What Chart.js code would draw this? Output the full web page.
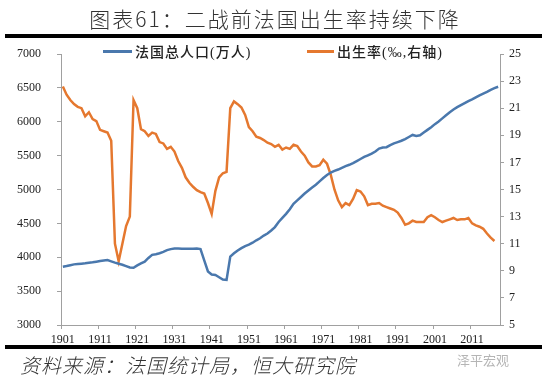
<!DOCTYPE html>
<html><head><meta charset="utf-8">
<script src="https://cdn.jsdelivr.net/npm/chart.js@4/dist/chart.umd.min.js"></script>
<style>
html,body{margin:0;padding:0;background:#fff;}
#wrap{position:relative;width:550px;height:383px;overflow:hidden;background:#fff;}
canvas{position:absolute;left:0;top:0;}
.t{position:absolute;font-family:"Liberation Serif","Noto Sans CJK SC";white-space:nowrap;}
.bar{position:absolute;background:#000;}
.ln{position:absolute;height:3px;}
</style></head><body>
<div id="wrap">
<canvas id="c" width="550" height="383"></canvas>
<div class="t" style="left:0;width:550px;top:3px;text-align:center;font-size:21px;font-weight:300;letter-spacing:2px;color:#333;font-family:'Noto Sans CJK SC'">图表61：二战前法国出生率持续下降</div>
<div class="bar" style="left:5px;top:34px;width:537px;height:4px"></div>
<div class="ln" id="l1" style="left:103px;top:50px;width:29px"></div>
<div class="t" id="t1" style="left:135px;top:41px;font-size:14px;font-weight:500;letter-spacing:1px;color:#222"></div>
<div class="ln" id="l2" style="left:307px;top:50px;width:27px"></div>
<div class="t" id="t2" style="left:337px;top:41px;font-size:14px;font-weight:500;letter-spacing:1px;color:#222"></div>
<div class="bar" style="left:5px;top:345px;width:537px;height:4px"></div>
<div class="t" style="left:20px;top:350px;font-size:20px;font-weight:300;font-style:italic;letter-spacing:1px;color:#333;font-family:'Noto Sans CJK SC'">资料来源：法国统计局，恒大研究院</div>
<div class="t" style="left:457px;top:350px;font-size:13px;color:#b5b5b5;font-family:'Noto Sans CJK SC'">泽平宏观</div>
</div>
<script>
const categories = ['1901','1902','1903','1904','1905','1906','1907','1908','1909','1910',
'1911','1912','1913','1914','1915','1916','1917','1918','1919','1920',
'1921','1922','1923','1924','1925','1926','1927','1928','1929','1930',
'1931','1932','1933','1934','1935','1936','1937','1938','1939','1940',
'1941','1942','1943','1944','1945','1946','1947','1948','1949','1950',
'1951','1952','1953','1954','1955','1956','1957','1958','1959','1960',
'1961','1962','1963','1964','1965','1966','1967','1968','1969','1970',
'1971','1972','1973','1974','1975','1976','1977','1978','1979','1980',
'1981','1982','1983','1984','1985','1986','1987','1988','1989','1990',
'1991','1992','1993','1994','1995','1996','1997','1998','1999','2000',
'2001','2002','2003','2004','2005','2006','2007','2008','2009','2010',
'2011','2012','2013','2014','2015','2016','2017','2018'];
const tickLabels = ['1901','1911','1921','1931','1941','1951','1961','1971','1981','1991','2001','2011'];
const populationLabel = '法国总人口(万人)';
const birthRateLabel = '出生率(‰,右轴)';
const population = [3860,3870,3882,3895,3900,3905,3910,3918,3925,3935,
3945,3952,3958,3940,3920,3905,3890,3870,3850,3845,
3880,3910,3935,3990,4035,4045,4060,4080,4105,4120,
4130,4128,4125,4125,4125,4125,4128,4120,3955,3790,
3745,3738,3705,3670,3665,4010,4058,4100,4135,4165,
4185,4215,4250,4280,4320,4350,4395,4445,4520,4580,
4640,4710,4790,4840,4890,4940,4985,5030,5070,5120,
5170,5215,5250,5275,5295,5320,5345,5365,5390,5420,
5450,5480,5505,5530,5560,5605,5620,5625,5655,5680,
5700,5720,5745,5775,5805,5790,5800,5840,5880,5920,
5965,6005,6050,6095,6140,6180,6215,6245,6275,6305,
6330,6360,6390,6415,6440,6470,6495,6517];
const birthRate = [22.6,22.0,21.6,21.3,21.1,21.0,20.4,20.7,20.2,20.05,
19.4,19.3,19.2,18.6,11.0,9.7,11.0,12.3,13.0,21.6,
21.0,19.45,19.3,18.95,19.2,19.1,18.5,18.4,18.0,18.15,
17.8,17.1,16.6,15.9,15.5,15.2,14.95,14.8,14.7,14.0,
13.2,14.9,15.9,16.2,16.3,21.0,21.5,21.3,21.05,20.5,
19.6,19.3,18.9,18.8,18.65,18.45,18.35,18.15,18.3,17.95,
18.1,18.0,18.3,18.2,17.8,17.5,17.0,16.7,16.7,16.8,
17.2,16.9,16.1,15.0,14.2,13.7,14.0,13.85,14.3,14.95,
14.85,14.5,13.85,13.95,13.95,14.0,13.8,13.7,13.6,13.5,
13.3,12.9,12.4,12.5,12.7,12.6,12.6,12.6,12.95,13.1,
12.95,12.75,12.6,12.7,12.8,12.9,12.75,12.8,12.8,12.9,
12.5,12.35,12.25,12.1,11.75,11.45,11.2,null];

const BLUE = '#4a78ad', ORANGE = '#e5782f', AXIS = '#a0a0a0';
document.getElementById('l1').style.background = BLUE;
document.getElementById('l2').style.background = ORANGE;
document.getElementById('t1').textContent = populationLabel;
document.getElementById('t2').textContent = birthRateLabel;

const tickFont = {family: '"Liberation Serif", "Times New Roman", serif', size: 12};
new Chart(document.getElementById('c'), {
  type: 'line',
  data: {
    labels: categories,
    datasets: [
      {label: populationLabel, data: population, borderColor: BLUE, borderWidth: 2.5, pointRadius: 0, tension: 0, yAxisID: 'y', fill: false},
      {label: birthRateLabel, data: birthRate, borderColor: ORANGE, borderWidth: 2.5, pointRadius: 0, tension: 0, yAxisID: 'y1', fill: false}
    ]
  },
  options: {
    responsive: false,
    animation: false,
    devicePixelRatio: 1,
    layout: {padding: {top: 54, left: 0, right: 0, bottom: 38}},
    plugins: {legend: {display: false}, tooltip: {enabled: false}, title: {display: false}},
    scales: {
      x: {
        type: 'category',
        offset: true,
        grid: {drawOnChartArea: false, offset: true, tickLength: 4,
          tickColor: ctx => (ctx.index !== undefined && ctx.index % 10 === 0) ? AXIS : 'rgba(0,0,0,0)'},
        border: {color: AXIS, width: 1},
        ticks: {autoSkip: false, maxRotation: 0, minRotation: 0, padding: 4, color: '#222', font: tickFont,
          callback: function(v, i) { const lab = categories[i]; return tickLabels.includes(lab) ? lab : ''; }},
        afterFit: s => { s.height = 20; }
      },
      y: {
        position: 'left', min: 3000, max: 7000,
        grid: {drawOnChartArea: false, tickLength: 4, color: AXIS},
        border: {color: AXIS, width: 1},
        ticks: {stepSize: 500, padding: 16, color: '#222', font: tickFont, callback: v => String(v)},
        afterFit: s => { s.width = 61; }
      },
      y1: {
        position: 'right', min: 5, max: 25,
        grid: {drawOnChartArea: false, tickLength: 4, color: AXIS},
        border: {color: AXIS, width: 1},
        ticks: {stepSize: 2, padding: 5, color: '#222', font: tickFont, callback: v => String(v)},
        afterFit: s => { s.width = 50; }
      }
    }
  }
});
</script>
</body></html>
